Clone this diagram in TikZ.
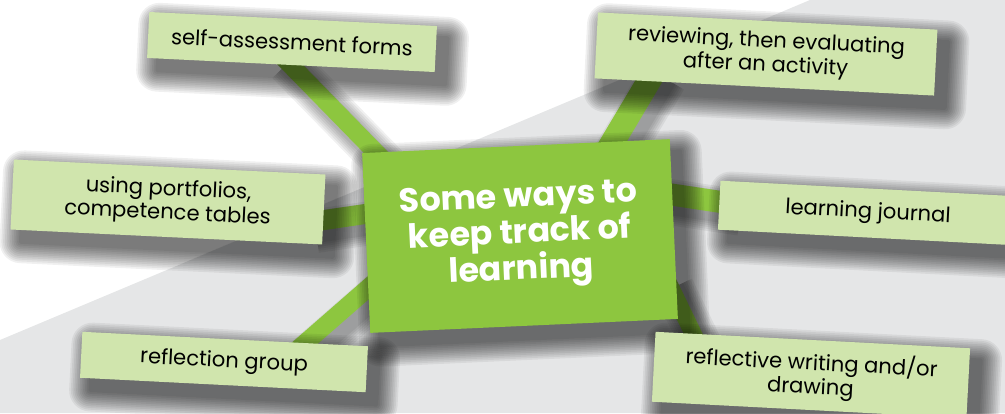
\documentclass[tikz,border=0pt]{standalone}
\usepackage{fontspec}
\setmainfont{Poppins}
\usetikzlibrary{calc}
\pgfdeclarelayer{back}
\pgfdeclarelayer{linkshade}
\pgfdeclarelayer{links}
\pgfdeclarelayer{boxshade}
\pgfsetlayers{back,linkshade,links,boxshade,main}
\definecolor{hubgreen}{HTML}{8DC63F}
\definecolor{ideagreen}{HTML}{D0E5AD}
\definecolor{backgrey}{HTML}{E5E6E7}
\tikzset{
    ideabox/.style={fill=ideagreen, inner sep=0pt, align=center, text=black,
        font=\fontsize{12}{13.6}\selectfont},
    hub/.style={fill=hubgreen, inner sep=0pt, align=center, text=white,
        font=\fontsize{19}{20.5}\selectfont\bfseries},
    link/.style={draw=hubgreen, shorten <=-0.3cm, shorten >=-0.5cm}
}
% soft shadow under a box
\newcommand{\Shade}[1]{
    \begin{pgfonlayer}{boxshade}
    \foreach \k in {1,...,12}{
        \pgfmathsetmacro\w{\k*2}
        \begin{scope}[transparency group, opacity=0.06]
            \filldraw[black, line width=\w pt, line join=round]
                ([shift={(6pt,-7pt)}]#1.north west) -- ([shift={(6pt,-7pt)}]#1.north east)
                -- ([shift={(6pt,-7pt)}]#1.south east) -- ([shift={(6pt,-7pt)}]#1.south west) -- cycle;
        \end{scope}
    }
    \end{pgfonlayer}
}
% green band with its shadow
\newcommand{\Link}[3]{
    \begin{pgfonlayer}{linkshade}
    \foreach \k in {1,...,6}{
        \pgfmathsetmacro\w{#1+\k*0.08}
        \draw[black, opacity=0.06, line width=\w cm, shorten <=-0.3cm, shorten >=-0.5cm]
            ([shift={(4pt,-5pt)}]#2) -- ([shift={(4pt,-5pt)}]#3);
    }
    \end{pgfonlayer}
    \begin{pgfonlayer}{links}
        \draw[link, line width=#1cm] (#2) -- (#3);
    \end{pgfonlayer}
}

\begin{document}
\begin{tikzpicture}[x=0.02cm, y=-0.02cm]
    \useasboundingbox (0,0) rectangle (1005,413);
    \clip (0,0) rectangle (1005,413);

    % centre
    \node[hub, rotate=2.6, minimum width=6.16cm, minimum height=3.6cm] (core) at (520,236)
        {Some ways to\\keep track of\\learning};

    % ideas round it
    \node[ideabox, rotate=-2.8, minimum width=5.76cm, minimum height=0.92cm] (sa) at (292,42)
        {self-assessment forms};
    \node[ideabox, rotate=-2.9, minimum width=6.8cm, minimum height=1.32cm] (rev) at (766,54)
        {reviewing, then evaluating\\after an activity};
    \node[ideabox, rotate=-2.75, minimum width=6.24cm, minimum height=1.4cm] (port) at (168,202)
        {using portfolios,\\competence tables};
    \node[ideabox, rotate=-3, minimum width=5.96cm, minimum height=0.98cm] (jour) at (868,213)
        {learning journal};
    \node[ideabox, rotate=-2.9, minimum width=5.72cm, minimum height=0.92cm] (grp) at (224,362)
        {reflection group};
    \node[ideabox, rotate=-3, minimum width=6.3cm, minimum height=1.4cm] (wri) at (811,375)
        {reflective writing and/or\\drawing};

    \foreach \b in {core,sa,rev,port,jour,grp,wri}
        \Shade{\b};

    \begin{pgfonlayer}{back}
        \fill[backgrey] (0,340) -- (810,0) -- (1005,0) -- (1005,413) -- (0,413) -- cycle;
    \end{pgfonlayer}

    % band ends
    \coordinate (sa-a) at (sa.south);
    \coordinate (sa-b) at ($(core.north west)!0.045!(core.north east)$);
    \coordinate (rev-a) at ($(rev.south west)!0.16!(rev.south east)$);
    \coordinate (rev-b) at ($(core.north west)!0.815!(core.north east)$);
    \coordinate (port-a) at ($(port.north east)!0.65!(port.south east)$);
    \coordinate (port-b) at ($(core.north west)!0.34!(core.south west)$);
    \coordinate (jour-a) at ($(jour.north west)!0.43!(jour.south west)$);
    \coordinate (jour-b) at ($(core.north east)!0.31!(core.south east)$);
    \coordinate (grp-a) at ($(grp.north west)!0.78!(grp.north east)$);
    \coordinate (grp-b) at ($(core.north west)!0.75!(core.south west)$);
    \coordinate (wri-a) at ($(wri.north west)!0.12!(wri.north east)$);
    \coordinate (wri-b) at ($(core.north east)!0.9!(core.south east)$);

    \Link{0.36}{sa-a}{sa-b}
    \Link{0.48}{rev-a}{rev-b}
    \Link{0.40}{port-a}{port-b}
    \Link{0.44}{jour-a}{jour-b}
    \Link{0.36}{grp-a}{grp-b}
    \Link{0.34}{wri-a}{wri-b}
\end{tikzpicture}
\end{document}
